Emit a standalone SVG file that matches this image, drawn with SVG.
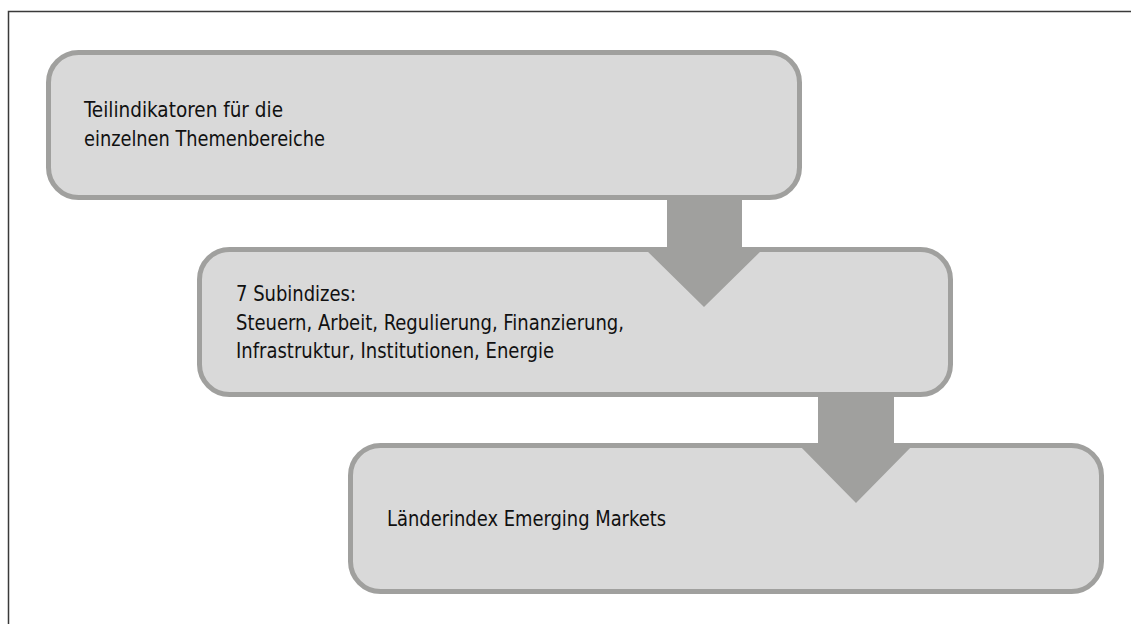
<svg xmlns="http://www.w3.org/2000/svg" width="1131" height="624" viewBox="0 0 1131 624">
<style>
.frame{fill:none;stroke:#3a3a3a;stroke-width:1.5}
.box{fill:#d9d9d9;stroke:#a0a09e;stroke-width:5}
.arrow{fill:#a0a09e;stroke:none}
.lbl{font-family:"DejaVu Sans Condensed","DejaVu Sans",sans-serif;font-size:21.5px;fill:#111}
</style>
<rect width="1131" height="624" fill="#fff"/>
<path class="frame" d="M8.5,624 V11.5 H1131"/>
<g id="node1">
<rect class="box" x="48.5" y="52.5" width="751" height="145" rx="30" ry="30"/>
<text class="lbl" x="84" y="117" textLength="199" lengthAdjust="spacingAndGlyphs">Teilindikatoren für die</text>
<text class="lbl" x="84" y="146" textLength="241" lengthAdjust="spacingAndGlyphs">einzelnen Themenbereiche</text>
</g>
<g id="node2">
<rect class="box" x="199.5" y="249.5" width="751" height="145" rx="30" ry="30"/>
<text class="lbl" x="236" y="301" textLength="120" lengthAdjust="spacingAndGlyphs">7 Subindizes:</text>
<text class="lbl" x="236" y="330" textLength="388" lengthAdjust="spacingAndGlyphs">Steuern, Arbeit, Regulierung, Finanzierung,</text>
<text class="lbl" x="236" y="358" textLength="318" lengthAdjust="spacingAndGlyphs">Infrastruktur, Institutionen, Energie</text>
</g>
<g id="node3">
<rect class="box" x="350.5" y="445.5" width="751" height="146" rx="30" ry="30"/>
<text class="lbl" x="387" y="526" textLength="279" lengthAdjust="spacingAndGlyphs">Länderindex Emerging Markets</text>
</g>
<g id="connectors">
<polygon class="arrow" points="667,199 742,199 742,247 765,247 704,307 643,247 667,247"/>
<polygon class="arrow" points="818,395 894,395 894,443 915,443 856,503 797,443 818,443"/>
</g>
</svg>
